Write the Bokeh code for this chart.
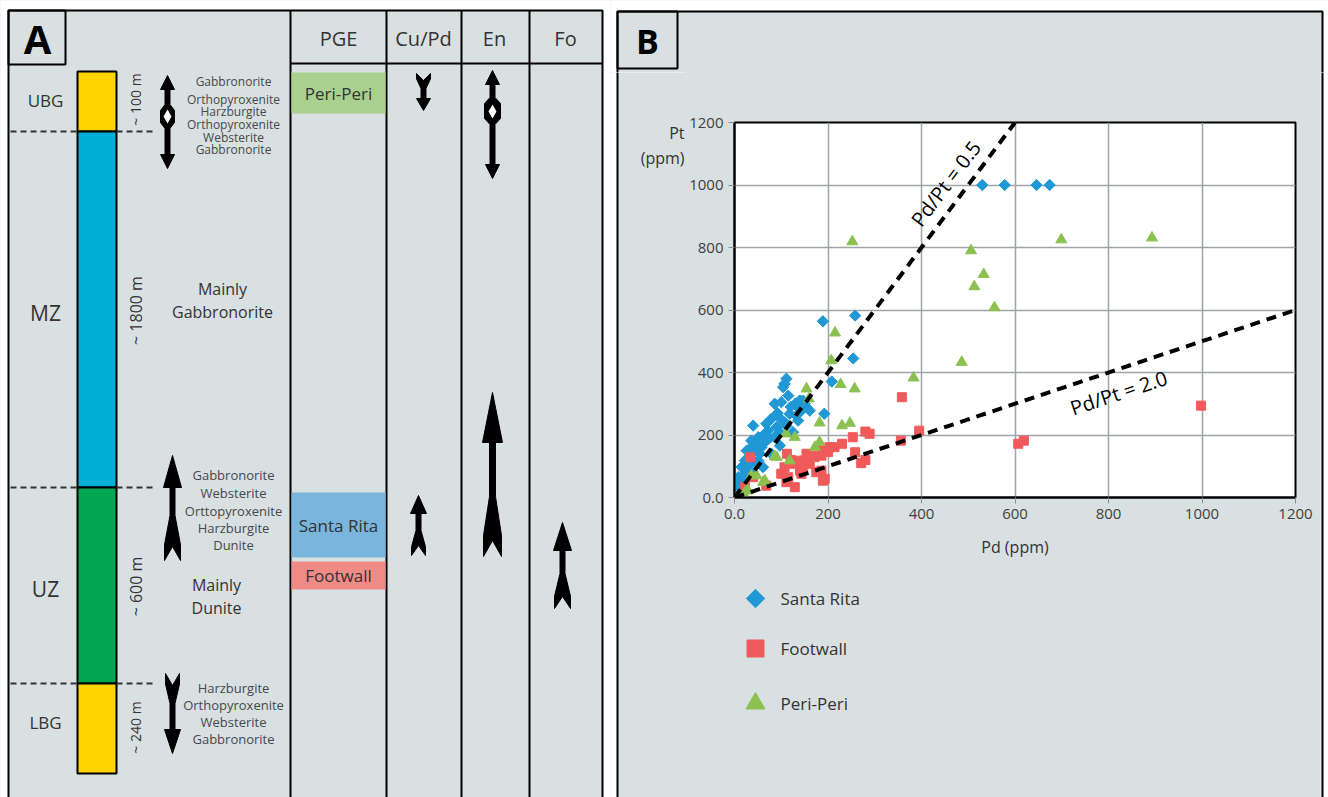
import math
from bokeh.plotting import figure
from bokeh.models import Range1d, FixedTicker
from bokeh.layouts import row, column
from bokeh.core.properties import value
from bokeh.embed import file_html
from bokeh.resources import INLINE

FONT = "Open Sans"
PANEL = "#d8e0e2"
INK = "#333333"

# ---------------- Panel A: stratigraphic column ----------------
zones = ["UBG", "MZ", "UZ", "LBG"]
zone_thickness = ["~ 100 m", "~ 1800 m", "~ 600 m", "~ 240 m"]
zone_colors = ["#ffd400", "#00aed6", "#00a651", "#ffd400"]
mz_rock = ["Mainly", "Gabbronorite"]
uz_rock = ["Mainly", "Dunite"]
ubg_rocks = ["Gabbronorite", "Orthopyroxenite", "Harzburgite",
             "Orthopyroxenite", "Websterite", "Gabbronorite"]
uz_rocks = ["Gabbronorite", "Websterite", "Orttopyroxenite", "Harzburgite", "Dunite"]
lbg_rocks = ["Harzburgite", "Orthopyroxenite", "Websterite", "Gabbronorite"]
columns = ["PGE", "Cu/Pd", "En", "Fo"]
pge_units = ["Peri-Peri", "Santa Rita", "Footwall"]
pge_colors = ["#a9d08e", "#79b5dc", "#ef8a85"]

# ---------------- Panel B: Pd vs Pt ----------------
santa_rita_pd = [530, 578, 646, 674, 189, 258, 254, 208, 192,
                 111, 107, 104, 139, 86, 154, 143, 118, 136, 125, 40, 97, 86, 72, 65,
                 58, 43, 33, 22, 51, 15, 29, 8, 19, 4, 1, 40, 61, 79, 97, 147, 161,
                 115, 100, 79, 68, 51, 36, 26, 54, 132, 111, 0, 3, 10, 12, 25, 30, 45,
                 18, 35, 47, 62, 90, 75, 100, 120, 130, 150, 92, 108, 136, 141]
santa_rita_pt = [1000, 1000, 1000, 1000, 564, 582, 445, 371, 268,
                 380, 364, 353, 310, 300, 289, 278, 268, 246, 209, 230, 209, 193, 214, 177,
                 161, 150, 129, 118, 118, 97, 86, 65, 49, 33, 17, 76, 97, 140, 166, 310, 278,
                 326, 305, 252, 236, 193, 182, 150, 140, 262, 230, 0, 8, 25, 45, 60, 100, 110,
                 70, 160, 170, 200, 225, 190, 250, 290, 300, 300, 270, 240, 289, 310]
footwall_pd = [358, 253, 280, 289, 258, 271, 280, 395, 356, 607, 619, 998,
               214, 200, 186, 186, 193, 186, 157, 150, 143, 161, 136, 125, 140, 143,
               107, 115, 129, 111, 100, 154, 164, 171, 147, 33, 22, 40, 68, 175, 189,
               203, 230, 112, 120]
footwall_pt = [321, 193, 211, 204, 145, 110, 120, 214, 182, 172, 182, 294,
               161, 145, 156, 134, 60, 86, 129, 118, 108, 108, 118, 108, 86, 76,
               97, 65, 33, 49, 76, 140, 134, 129, 92, 129, 33, 65, 38, 81, 54,
               161, 172, 140, 120]
peri_peri_pd = [252, 506, 533, 513, 556, 699, 893, 486, 383, 215, 207, 227, 257,
                154, 159, 182, 230, 247, 129, 110, 86, 118, 172, 182, 36, 61, 29,
                4, 65, 26, 90, 47, 12, 20]
peri_peri_pt = [819, 790, 714, 675, 608, 825, 831, 433, 383, 527, 438, 362, 348,
                348, 316, 239, 230, 238, 193, 204, 132, 118, 161, 177, 70, 49, 22,
                0, 54, 22, 129, 70, 5, 10]
series_names = ["Santa Rita", "Footwall", "Peri-Peri"]
ratios = [0.5, 2.0]
ratio_pd_end = [600, 1200]
axis_ticks = [0, 200, 400, 600, 800, 1000, 1200]

BLUE, RED, GREEN = "#1f98d5", "#f05a5a", "#8cc152"


def single_arrow(x, tip, tail, hl, hw, sw, fl, fw, nd):
    s = 1 if tail > tip else -1
    hb = tip + s * hl
    fs = tail - s * fl
    fm = tail - s * fl * 0.35
    xs = [x, x + hw, x + sw, x + sw, x + fw, x + fw, x, x - fw, x - fw, x - sw, x - sw, x - hw]
    ys = [tip, hb, hb, fs, fm, tail, tail - s * nd, tail, fm, fs, hb, hb]
    return xs, ys


def double_arrow(x, top, bottom, hl, hw, sw, m0, m1, mw):
    xs = [x, x + hw, x + sw, x + sw, x + mw, x + mw, x + sw, x + sw, x + hw, x,
          x - hw, x - sw, x - sw, x - mw, x - mw, x - sw, x - sw, x - hw]
    ys = [top, top + hl, top + hl, m0, m0 + 6, m1 - 6, m1, bottom - hl, bottom - hl, bottom,
          bottom - hl, bottom - hl, m1, m1 - 6, m0 + 6, m0, top + hl, top + hl]
    return xs, ys


def canvas_fig(x0, x1, y0, y1, bg="white"):
    """A figure whose data coordinates are page pixels (y grows downward)."""
    f = figure(width=x1 - x0, height=y1 - y0, x_range=Range1d(x0, x1), y_range=Range1d(y1, y0),
               output_backend="svg", toolbar_location=None, min_border=0,
               background_fill_color=bg, border_fill_color=bg, outline_line_color=None)
    f.axis.visible = False
    f.grid.visible = False
    f.frame_align = False
    # solid backdrop running past the canvas edges
    f.quad(left=[x0 - 20], right=[x1 + 20], top=[y0 - 20], bottom=[y1 + 20],
           fill_color=bg, line_color=None)
    return f


def txt(f, xs, ys, texts, size, color=INK, align="center", **kw):
    f.text(x=xs, y=ys, text=texts, text_font=value(FONT), text_font_size=size,
           text_align=align, text_baseline="middle", text_color=color, **kw)


# ---- Panel A ----
pA = canvas_fig(0, 610, 0, 797)
pA.quad(left=[8], right=[602], top=[10], bottom=[805], fill_color=PANEL,
        line_color="black", line_width=2)
pA.quad(left=[8], right=[65], top=[10], bottom=[64], fill_alpha=0,
        line_color="black", line_width=2)
txt(pA, [37], [38], ["A"], "40px", color="black", text_font_style="bold")

col_x = [290, 386, 461, 529]
pA.segment(x0=col_x, y0=[10] * 4, x1=col_x, y1=[805] * 4, line_color="black", line_width=2)
pA.segment(x0=[290], y0=[63], x1=[602], y1=[63], line_color="black", line_width=2)
txt(pA, [338, 423, 494, 565], [38] * 4, columns, "20px")

zone_top = [71, 131, 487, 683]
zone_bot = [131, 487, 683, 773]
pA.quad(left=[77] * 4, right=[116] * 4, top=zone_top, bottom=zone_bot,
        fill_color=zone_colors, line_color="black", line_width=2)
for yb in zone_bot[:3]:
    pA.segment(x0=[10, 116], y0=[yb, yb], x1=[77, 155], y1=[yb, yb],
               line_color=INK, line_width=2, line_dash="6 4")

txt(pA, [45] * 4, [100, 312, 588, 722], zones, ["17px", "21px", "21px", "17px"])
txt(pA, [135] * 4, [99, 310, 586, 727], zone_thickness, ["14px", "16px", "16px", "14px"],
    angle=math.pi / 2)
txt(pA, [222, 222], [288, 311], mz_rock, "16px")
txt(pA, [216, 216], [584, 607], uz_rock, "16px")
txt(pA, [233] * 6, [81, 99, 111, 124, 137, 149], ubg_rocks, "12px", color="#484848")
txt(pA, [233] * 5, [474, 492, 510, 527, 544], uz_rocks, "13px", color="#484848")
txt(pA, [233] * 4, [687, 704, 721, 738], lbg_rocks, "13px", color="#484848")

pA.quad(left=[291] * 3, right=[385] * 3, top=[72, 492, 561], bottom=[113, 557, 589],
        fill_color=pge_colors, line_color=None)
txt(pA, [338] * 3, [93, 525, 575], pge_units, "17px")

arrows = [
    single_arrow(172, 455, 560, 32, 9, 2.5, 45, 8, 14),
    single_arrow(418, 495, 555, 18, 8, 2.5, 25, 7, 10),
    single_arrow(492, 392, 556, 50, 10, 3, 60, 9, 16),
    single_arrow(562, 522, 608, 28, 9, 2.5, 35, 8, 12),
    single_arrow(423, 110, 73, 12, 7, 2.5, 15, 7, 7),
    single_arrow(172, 753, 673, 24, 8, 2.5, 30, 7, 12),
    double_arrow(167, 75, 168, 14, 7, 2.5, 104, 128, 7),
    double_arrow(492, 70, 178, 14, 7, 2.5, 97, 124, 8),
]
pA.patches(xs=[a[0] for a in arrows], ys=[a[1] for a in arrows],
           fill_color="black", line_color="black", line_width=1)
pA.patches(xs=[[167, 171, 167, 163], [492, 496, 492, 488]],
           ys=[[109, 116, 123, 116], [104, 111, 118, 111]],
           fill_color="white", line_color=None)

# ---- Panel B: frame pieces around the scatter plot ----
bTop = canvas_fig(610, 1328, 0, 72)
bTop.quad(left=[617], right=[1322], top=[11], bottom=[90], fill_color=PANEL,
          line_color="black", line_width=2)
bTop.quad(left=[617], right=[677], top=[11], bottom=[68], fill_alpha=0,
          line_color="black", line_width=2)
txt(bTop, [647], [40], ["B"], "34px", color="black", text_font_style="bold")

bLeft = canvas_fig(610, 686, 72, 797)
bLeft.quad(left=[617], right=[700], top=[60], bottom=[805], fill_color=PANEL,
           line_color="black", line_width=2)
txt(bLeft, [684, 684], [132, 157], ["Pt", "(ppm)"], "16px", align="right")

bRight = canvas_fig(1320, 1328, 72, 797)
bRight.quad(left=[1300], right=[1322], top=[60], bottom=[805], fill_color=PANEL,
            line_color="black", line_width=2)

# ---- Panel B: scatter plot ----
pB = figure(width=634, height=503, x_range=Range1d(0, 1200), y_range=Range1d(0, 1200),
            output_backend="svg", toolbar_location=None,
            min_border_left=47, min_border_right=25, min_border_top=50, min_border_bottom=78,
            background_fill_color="white", border_fill_color=PANEL,
            outline_line_color="black", outline_line_width=2)
pB.frame_align = False

for ax in (pB.xaxis[0], pB.yaxis[0]):
    ax.ticker = FixedTicker(ticks=axis_ticks)
    ax.major_label_overrides = {0: "0.0"}
    ax.major_label_text_font = FONT
    ax.major_label_text_font_size = "15px"
    ax.major_label_text_color = "#404040"
    ax.axis_line_color = "black"
    ax.axis_line_width = 2
    ax.major_tick_line_color = "#8a9092"
    ax.major_tick_in = 0
    ax.major_tick_out = 6
    ax.minor_tick_line_color = None
pB.xaxis.axis_label = "Pd (ppm)"
pB.xaxis.axis_label_text_font = FONT
pB.xaxis.axis_label_text_font_size = "16px"
pB.xaxis.axis_label_text_font_style = "normal"
pB.xaxis.axis_label_text_color = INK
pB.xaxis.axis_label_standoff = 14
pB.grid.grid_line_color = "#9ea5a7"
pB.grid.grid_line_width = 1.5
for g in pB.grid:
    g.ticker = FixedTicker(ticks=axis_ticks)

pB.scatter(santa_rita_pd, santa_rita_pt, marker="square", angle=math.pi / 4, size=8,
           fill_color=BLUE, line_color=BLUE)
pB.scatter(footwall_pd, footwall_pt, marker="square", size=9, fill_color=RED, line_color=RED)
pB.scatter(peri_peri_pd, peri_peri_pt, marker="triangle", size=11,
           fill_color=GREEN, line_color=GREEN)

for r, pd_end in zip(ratios, ratio_pd_end):
    pB.line([0, pd_end], [0, pd_end / r], line_color="black", line_width=4, line_dash="10 7")

pB.text(x=[452, 822], y=[1005, 335], text=[f"Pd/Pt = {r:.1f}" for r in ratios],
        angle=[53, 18.4], angle_units="deg", text_font=value(FONT), text_font_size="20px",
        text_align="center", text_baseline="middle", text_color="black")

# ---- Panel B: legend ----
bLeg = canvas_fig(686, 1320, 575, 797, bg=PANEL)
leg_y = [598, 648, 703]
bLeg.scatter(x=[755], y=[leg_y[0]], marker="square", angle=math.pi / 4, size=13,
             fill_color=BLUE, line_color=BLUE)
bLeg.scatter(x=[755], y=[leg_y[1]], marker="square", size=17, fill_color=RED, line_color=RED)
bLeg.scatter(x=[755], y=[leg_y[2]], marker="triangle", size=19, fill_color=GREEN,
             line_color=GREEN)
txt(bLeg, [780] * 3, leg_y, series_names, "17px", align="left")

panel_b = column(bTop, row(bLeft, column(pB, bLeg, spacing=0), bRight, spacing=0), spacing=0)
layout = row(pA, panel_b, spacing=0)

page = file_html(layout, INLINE)
page = page.replace("</head>",
                    "<style>html, body { margin: 0; background: %s; }</style></head>" % PANEL, 1)
open("out.html", "w").write(page)
